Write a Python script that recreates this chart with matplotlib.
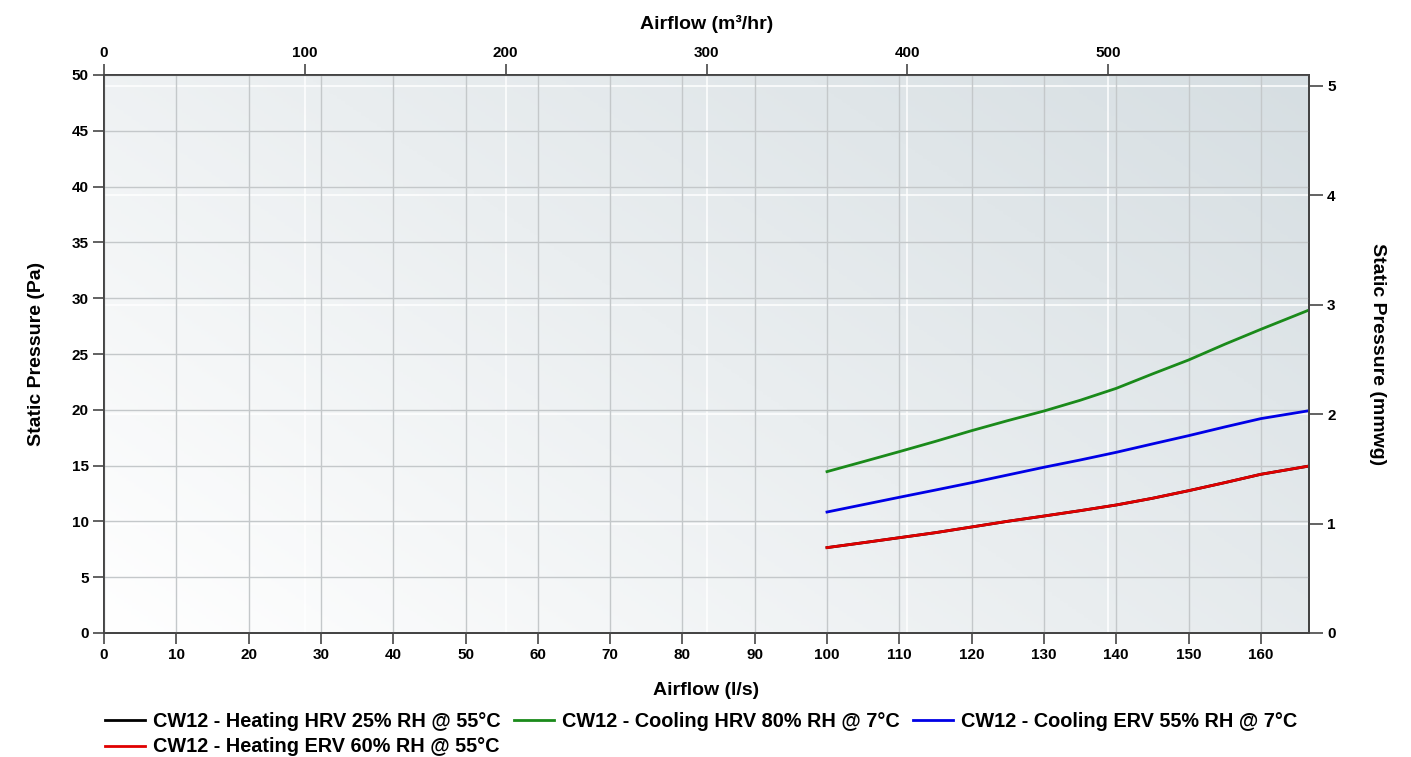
import numpy as np
import matplotlib
matplotlib.use("Agg")
import matplotlib.pyplot as plt
from matplotlib.colors import LinearSegmentedColormap

plt.rcParams['font.family'] = ['Liberation Sans', 'DejaVu Sans']
plt.rcParams['font.weight'] = 'bold'

# Airflow (l/s) and static pressure (Pa) for each operating mode
airflow_ls = [100, 105, 110, 115, 120, 125, 130, 135, 140, 145, 150, 155, 160, 166.67]
heating_hrv = [7.65, 8.09, 8.54, 8.99, 9.50, 10.01, 10.48, 10.96, 11.47, 12.07,
               12.75, 13.47, 14.22, 14.96]
heating_erv = [7.65, 8.09, 8.54, 8.99, 9.50, 10.01, 10.48, 10.96, 11.47, 12.07,
               12.75, 13.47, 14.22, 14.96]
cooling_hrv = [14.46, 15.35, 16.25, 17.17, 18.13, 19.03, 19.89, 20.85, 21.92, 23.21,
               24.46, 25.87, 27.21, 28.94]
cooling_erv = [10.84, 11.50, 12.16, 12.81, 13.47, 14.16, 14.85, 15.50, 16.19, 16.94,
               17.68, 18.46, 19.21, 19.92]

labels = [
    "CW12 - Heating HRV 25% RH @ 55°C",
    "CW12 - Heating ERV 60% RH @ 55°C",
    "CW12 - Cooling HRV 80% RH @ 7°C",
    "CW12 - Cooling ERV 55% RH @ 7°C",
]
colors = ["#000000", "#e00000", "#1a8a1a", "#0000e6"]

PA_PER_MMWG = 9.80665
LS_TO_M3H = 3.6
X_MAX = 600 / LS_TO_M3H
Y_MAX = 50

W, H = 1411, 757
fig = plt.figure(figsize=(W / 100, H / 100), dpi=100)
rect = [104 / W, 1 - 633 / H, (1309 - 104) / W, (633 - 75) / H]

# background gradient panel
bg = fig.add_axes(rect, zorder=0)
bg.set_axis_off()
cmap = LinearSegmentedColormap.from_list("bg", ["#ffffff", "#eaeef0", "#d6dee2"])
gx, gy = np.meshgrid(np.linspace(0, 1, 300), np.linspace(0, 1, 300))
grad = (gx * 0.6 + gy * 0.4)
bg.imshow(grad, cmap=cmap, origin="lower", extent=[0, 1, 0, 1],
          aspect="auto", vmin=0, vmax=1)
bg.set_xlim(0, 1)
bg.set_ylim(0, 1)

ax = fig.add_axes(rect, zorder=3)
ax.patch.set_visible(False)
axr = ax.twinx()
axt = ax.twiny()
axr.set_zorder(1)
axt.set_zorder(2)
for a in (axr, axt):
    a.patch.set_visible(False)

TICK_SIZE = 11
label_font = dict(fontsize=14, fontweight='bold')

# primary axes: l/s and Pa
ax.set_xlim(0, X_MAX)
ax.set_ylim(0, Y_MAX)
ax.set_xticks(np.arange(0, 161, 10))
ax.set_yticks(np.arange(0, 51, 5))
ax.grid(True, color="#c4c8ca", linewidth=1.0)
ax.tick_params(axis='both', direction='out', length=8, width=1.3,
               color="#555555", labelsize=TICK_SIZE, pad=3)
for lab in ax.get_xticklabels() + ax.get_yticklabels():
    lab.set_fontweight('bold')

series = [heating_hrv, heating_erv, cooling_hrv, cooling_erv]
lines = []
for vals, c, lab in zip(series, colors, labels):
    ln, = ax.plot(airflow_ls, vals, color=c, linewidth=2.0, label=lab,
                  solid_joinstyle='round')
    lines.append(ln)

ax.set_xlabel("Airflow (l/s)", labelpad=14, **label_font)
ax.set_ylabel("Static Pressure (Pa)", labelpad=19, **label_font)

# secondary axes: m3/hr and mmwg
axt.set_xlim(0, X_MAX * LS_TO_M3H)
axt.set_xticks(np.arange(0, 501, 100))
axt.grid(True, axis='x', color="#ffffff", linewidth=1.2, alpha=0.9)
axt.tick_params(axis='x', direction='out', length=8, width=1.3,
                color="#555555", labelsize=TICK_SIZE, pad=3)
axt.set_xlabel("Airflow (m³/hr)", labelpad=12, **label_font)

axr.set_ylim(0, Y_MAX / PA_PER_MMWG)
axr.set_yticks(np.arange(0, 6, 1))
axr.grid(True, axis='y', color="#ffffff", linewidth=1.2, alpha=0.9)
axr.tick_params(axis='y', direction='out', length=10, width=1.3,
                color="#555555", labelsize=TICK_SIZE, pad=3)
axr.set_ylabel("Static Pressure (mmwg)", rotation=-90, labelpad=36, **label_font)

for a in (axr, axt):
    for lab in a.get_xticklabels() + a.get_yticklabels():
        lab.set_fontweight('bold')

for a in (ax, axr, axt):
    for s in a.spines.values():
        s.set_color("#444444")
        s.set_linewidth(1.3)

leg = fig.legend(handles=lines, labels=labels, ncol=3, frameon=False,
                 loc='upper left', bbox_to_anchor=(97 / W, 1 - 704 / H),
                 prop=dict(size=14.3, weight='bold'),
                 handlelength=2.0, handletextpad=0.4, columnspacing=0.7,
                 labelspacing=0.33, borderaxespad=0)

fig.savefig("out.png", dpi=100)
